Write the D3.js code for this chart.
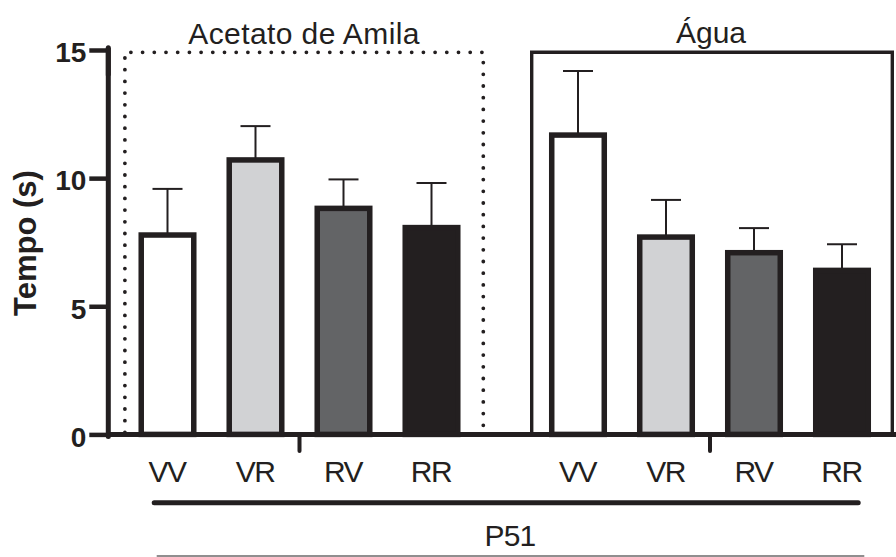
<!DOCTYPE html>
<html>
<head>
<meta charset="utf-8">
<script src="https://cdn.jsdelivr.net/npm/d3@7"></script>
<style>
  html, body { margin: 0; padding: 0; background: #fff; }
  svg { display: block; font-family: "Liberation Sans", Arial, sans-serif; }
</style>
</head>
<body>
<svg id="chart" width="896" height="557"></svg>
<script>
// ---- data ----
const groups = ["Acetato de Amila", "Água"];
const categories = ["VV", "VR", "RV", "RR"];
const meansAcetato = [7.78, 10.71, 8.82, 8.07];
const errTopAcetato = [9.58, 12.03, 9.95, 9.81];
const meansAgua = [11.68, 7.70, 7.09, 6.40];
const errTopAgua = [14.18, 9.15, 8.05, 7.42];
const yTicks = [0, 5, 10, 15];
const yLabel = "Tempo (s)";
const groupLabel = "P51";

const fills = { VV: "#ffffff", VR: "#d1d2d4", RV: "#636466", RR: "#231f20" };
const ink = "#231f20";

const rows = [];
groups.forEach((g, gi) => {
  const m = gi === 0 ? meansAcetato : meansAgua;
  const e = gi === 0 ? errTopAcetato : errTopAgua;
  categories.forEach((c, ci) => rows.push({ group: g, cat: c, mean: m[ci], errTop: e[ci] }));
});

const svg = d3.select("#chart");

// ---- scales ----
const y = d3.scaleLinear().domain([0, 15]).range([434.4, 50]);
const xGroup = d3.scalePoint().domain(groups).range([299.5, 710]);
const xInner = d3.scaleBand().domain(categories).range([-176, 176]).paddingInner(0.403).paddingOuter(0.2015);
const cx = d => xGroup(d.group) + xInner(d.cat) + xInner.bandwidth() / 2;
const axisX = 108.3;

// ---- group frames ----
const frameL = { x0: 124.9, x1: 483.3 };
const frameR = { x0: 531.7, x1: 892.3 };
const frameTop = 52.3;
svg.append("path")
  .attr("d", `M${frameL.x0},${y(0) - 2}V${frameTop}H${frameL.x1}V${y(0) - 2}`)
  .attr("fill", "none").attr("stroke", ink).attr("stroke-width", 3.8)
  .attr("stroke-linecap", "round").attr("stroke-dasharray", "0 11.7");
svg.append("path")
  .attr("d", `M${frameR.x0},${y(0)}V${frameTop}H${frameR.x1}V${y(0)}`)
  .attr("fill", "none").attr("stroke", ink).attr("stroke-width", 3.4);

// titles
svg.append("text").attr("x", (frameL.x0 + frameL.x1) / 2).attr("y", 44)
  .attr("text-anchor", "middle").attr("font-size", 30).attr("fill", ink)
  .attr("letter-spacing", 0.4).text(groups[0]);
svg.append("text").attr("x", (frameR.x0 + frameR.x1) / 2 - 1).attr("y", 42.5)
  .attr("text-anchor", "middle").attr("font-size", 30).attr("fill", ink).text(groups[1]);

// ---- bars ----
const bw = xInner.bandwidth();
// error bars (behind bars)
const eb = svg.append("g").attr("stroke", ink).attr("stroke-width", 2).attr("fill", "none");
eb.selectAll("line.v").data(rows).join("line").attr("class", "v")
  .attr("x1", cx).attr("x2", cx).attr("y1", d => y(d.mean)).attr("y2", d => y(d.errTop));
eb.selectAll("line.c").data(rows).join("line").attr("class", "c")
  .attr("x1", d => cx(d) - 15).attr("x2", d => cx(d) + 15)
  .attr("y1", d => y(d.errTop)).attr("y2", d => y(d.errTop));

svg.append("g").selectAll("rect").data(rows).join("rect")
  .attr("x", d => cx(d) - bw / 2).attr("width", bw)
  .attr("y", d => y(d.mean)).attr("height", d => y(0) - y(d.mean))
  .attr("fill", d => fills[d.cat]).attr("stroke", ink).attr("stroke-width", 5.5);

// ---- axes ----
// x baseline
svg.append("line").attr("x1", axisX).attr("x2", 896).attr("y1", y(0)).attr("y2", y(0))
  .attr("stroke", ink).attr("stroke-width", 5);
// group separator ticks
svg.append("g").selectAll("line").data(groups).join("line")
  .attr("x1", d => xGroup(d)).attr("x2", d => xGroup(d))
  .attr("y1", y(0)).attr("y2", 451)
  .attr("stroke", ink).attr("stroke-width", 4).attr("stroke-linecap", "round");

const yAxis = d3.axisLeft(y).tickValues(yTicks).tickSize(19).tickSizeOuter(0).tickPadding(3);
const gy = svg.append("g").attr("transform", `translate(${axisX},0)`).call(yAxis);
gy.select(".domain").remove();
gy.selectAll(".tick line").attr("stroke", ink).attr("stroke-width", 4.5);
gy.selectAll(".tick text").attr("font-size", 28).attr("font-weight", "bold")
  .attr("fill", ink).attr("font-family", "'Liberation Sans', Arial, sans-serif")
  .attr("dy", "0.42em");
svg.append("line").attr("x1", axisX).attr("x2", axisX).attr("y1", y(15) - 2.2).attr("y2", y(0) + 2)
  .attr("stroke", ink).attr("stroke-width", 5).attr("stroke-linecap", "round");
svg.append("line").attr("x1", axisX).attr("x2", axisX).attr("y1", y(15) - 2.2).attr("y2", y(14))
  .attr("stroke", ink).attr("stroke-width", 5);

svg.append("text").attr("transform", `translate(36,243) rotate(-90)`)
  .attr("text-anchor", "middle").attr("font-size", 31).attr("font-weight", "bold")
  .attr("fill", ink).text(yLabel);

// category labels
svg.append("g").selectAll("text").data(rows).join("text")
  .attr("x", d => cx(d) - 0.5).attr("y", 481.5)
  .attr("text-anchor", "middle").attr("font-size", 30).attr("letter-spacing", -1.5)
  .attr("fill", ink).text(d => d.cat);

// P51 bracket
svg.append("line").attr("x1", 154.2).attr("x2", 858.2).attr("y1", 502.7).attr("y2", 502.7)
  .attr("stroke", ink).attr("stroke-width", 5).attr("stroke-linecap", "round");
svg.append("text").attr("x", 510).attr("y", 545.5).attr("text-anchor", "middle")
  .attr("font-size", 30).attr("letter-spacing", -0.8).attr("fill", ink).text(groupLabel);
svg.append("line").attr("x1", 156.7).attr("x2", 864.3).attr("y1", 556).attr("y2", 556)
  .attr("stroke", ink).attr("stroke-width", 1.2);
</script>
</body>
</html>
